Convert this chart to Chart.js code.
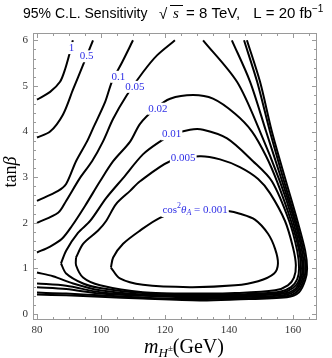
<!DOCTYPE html>
<html>
<head>
<meta charset="utf-8">
<script src="https://cdn.jsdelivr.net/npm/chart.js@4/dist/chart.umd.min.js"></script>
<style>
  html, body { margin: 0; padding: 0; background: #fff; }
</style>
</head>
<body>
<canvas id="contourChart" width="332" height="358"></canvas>
<script>
// contour lines of cos^2(theta_A), points are [m_H+ (GeV), tan(beta)]
const cos1Left = [[80, 4.70], [84.1, 4.87], [87.2, 5.09], [88.8, 5.37], [90.3, 5.74], [91.2, 6.0]];
const cos1Right = [[145.6, 6.0], [149.7, 5.09], [153.4, 4.0], [157.8, 2.91], [161.4, 2.04], [163.8, 1.39], [164.4, 1.0],
    [163.8, 0.74], [161.9, 0.48], [158.1, 0.37], [141.9, 0.32], [130.9, 0.30], [113.1, 0.34], [99.7, 0.38], [89.1, 0.41], [80, 0.43]];

const cos05Left = [[80, 3.87], [84.1, 4.0], [88.1, 4.37], [91.3, 4.93], [94.4, 5.46], [97.5, 6.0]];
const cos05Right = [[144.7, 6.0], [148.8, 5.09], [152.8, 4.0], [157.2, 2.91], [160.9, 2.04], [163.3, 1.39], [163.9, 1.0],
    [163.3, 0.74], [161.4, 0.50], [157.8, 0.39], [141.9, 0.34], [130.9, 0.33], [113.1, 0.36], [99.7, 0.41], [89.1, 0.45], [80, 0.47]];

const cos01Left = [[80, 2.48], [86.6, 2.70], [89.1, 2.85], [92.2, 3.35], [95.6, 3.78], [97.5, 4.07], [101.3, 4.65], [103.4, 5.09], [106.6, 5.52], [110.0, 6.0]];
const cos01Right = [[140.9, 6.0], [146.6, 5.09], [151.6, 4.0], [156.6, 2.91], [160.5, 2.04], [162.8, 1.39], [163.4, 1.0],
    [162.8, 0.74], [160.9, 0.52], [157.5, 0.42], [141.9, 0.37], [130.9, 0.36], [113.1, 0.40], [99.7, 0.45], [89.1, 0.55], [80, 0.59]];

const cos005Left = [[80, 2.0], [86.6, 2.22], [89.1, 2.48], [93.4, 2.98], [97.2, 3.35], [100.6, 3.78], [103.8, 4.28], [108.1, 4.80], [113.1, 5.30], [117.5, 5.67], [123.1, 6.0]];
const cos005Right = [[131.9, 6.0], [142.5, 5.09], [149.7, 4.0], [155.9, 2.91], [160.0, 2.04], [162.3, 1.39], [163.0, 1.0],
    [162.3, 0.74], [160.5, 0.54], [157.2, 0.45], [141.9, 0.39], [130.9, 0.39], [113.1, 0.41], [99.7, 0.48], [89.1, 0.62], [80, 0.67]];

const cos002 = [[80, 1.35], [84.1, 1.48], [87.8, 1.65], [90.9, 1.93], [95.0, 2.37], [99.7, 2.91], [103.8, 3.35], [109.1, 3.78], [112.2, 4.17],
    [116.9, 4.50], [121.6, 4.72], [128.8, 4.80], [135.0, 4.72], [141.9, 4.39], [147.2, 4.0], [151.6, 3.46], [155.0, 2.91], [159.4, 2.04],
    [161.9, 1.39], [162.5, 1.0], [161.9, 0.74], [160.0, 0.57], [156.6, 0.47], [141.9, 0.41], [130.9, 0.41], [113.1, 0.43], [99.7, 0.52],
    [91.3, 0.67], [85.0, 0.83], [80, 0.91]];

const cos001 = [[87.5, 1.11], [89.1, 1.39], [92.8, 1.78], [96.6, 2.04], [101.6, 2.54], [106.9, 2.98], [113.1, 3.50], [118.4, 3.78], [122.2, 3.93],
    [127.8, 4.04], [131.9, 4.04], [139.4, 3.85], [147.5, 3.35], [153.4, 2.91], [158.8, 2.04], [161.3, 1.39], [161.9, 1.0], [161.3, 0.76],
    [159.4, 0.59], [155.9, 0.49], [141.9, 0.43], [130.9, 0.43], [113.1, 0.46], [99.7, 0.57], [94.4, 0.67], [89.1, 0.89], [87.5, 1.11]];

const cos0005 = [[92.2, 1.24], [92.2, 1.07], [94.4, 0.80], [99.7, 0.63], [113.1, 0.48], [130.9, 0.45], [141.9, 0.46], [154.4, 0.52], [158.4, 0.63],
    [160.3, 0.80], [160.9, 1.07], [160.0, 1.46], [157.5, 2.04], [152.8, 2.65], [149.1, 2.96], [143.4, 3.22], [137.2, 3.39], [130.9, 3.46],
    [121.6, 3.35], [112.2, 2.91], [109.1, 2.70], [104.7, 2.41], [101.6, 2.04], [99.1, 1.83], [94.4, 1.54], [92.2, 1.24]];

const cos0001 = [[103.1, 1.02], [103.8, 1.24], [106.9, 1.54], [112.2, 1.83], [118.4, 2.11], [124.7, 2.24], [132.5, 2.30], [139.7, 2.26],
    [143.4, 2.20], [148.1, 2.07], [152.2, 1.76], [154.4, 1.43], [155.3, 1.11], [154.1, 0.89], [149.1, 0.72], [141.9, 0.63], [127.8, 0.59],
    [113.1, 0.64], [105.9, 0.78], [103.1, 1.02]];

// contour labels
const levelLabels = ['1', '0.5', '0.1', '0.05', '0.02', '0.01', '0.005'];
const labelMass = [90.8, 95.5, 105.4, 110.6, 117.8, 122.1, 125.7];
const labelTan = [5.83, 5.65, 5.20, 4.98, 4.50, 3.94, 3.42];
const mainLabelPos = [129.4, 2.28];

const xTicks = [80, 100, 120, 140, 160];
const yTicks = [0, 1, 2, 3, 4, 5, 6];

const serif = '"Liberation Serif", "DejaVu Serif", serif';
const sans = '"Liberation Sans", Arial, sans-serif';
const labelBlue = '#2f2fe6';

const pieces = [cos1Left, cos1Right, cos05Left, cos05Right, cos01Left, cos01Right, cos005Left, cos005Right,
    cos002, cos001, cos0005, cos0001];

const datasets = pieces.map(p => ({
    data: p.map(pt => ({x: pt[0], y: pt[1]})),
    showLine: true,
    borderColor: '#000',
    borderWidth: 2,
    pointRadius: 0,
    tension: 0.3,
    fill: false
}));

function drawParts(ctx, parts, x, y) {
    for (const [t, f, dy] of parts) {
        ctx.font = f;
        ctx.fillText(t, x, y + dy);
        x += ctx.measureText(t).width;
    }
    return x;
}

function partsWidth(ctx, parts) {
    let w = 0;
    for (const [t, f] of parts) {
        ctx.font = f;
        w += ctx.measureText(t).width;
    }
    return w;
}

const decorations = {
    id: 'decorations',
    afterDatasetsDraw(chart) {
        const {ctx, scales: {x, y}} = chart;
        ctx.save();
        ctx.textBaseline = 'middle';
        // contour level labels
        ctx.font = '11px ' + serif;
        levelLabels.forEach((t, i) => {
            const px = x.getPixelForValue(labelMass[i]);
            const py = y.getPixelForValue(labelTan[i]);
            const w = ctx.measureText(t).width;
            ctx.fillStyle = '#fff';
            ctx.fillRect(px - w / 2 - 1, py - 6, w + 2, 12);
            ctx.fillStyle = labelBlue;
            ctx.textAlign = 'center';
            ctx.fillText(t, px, py);
        });
        ctx.textAlign = 'left';
        const mainParts = [
            ['cos', '11px ' + serif, 0],
            ['2', '8px ' + serif, -4],
            ['\u03B8', 'italic 11px ' + serif, 0],
            ['A', 'italic 8px ' + serif, 3],
            [' = 0.001', '11px ' + serif, 0]
        ];
        const mw = partsWidth(ctx, mainParts);
        const mx = x.getPixelForValue(mainLabelPos[0]) - mw / 2;
        const my = y.getPixelForValue(mainLabelPos[1]);
        ctx.fillStyle = '#fff';
        ctx.fillRect(mx - 1, my - 7, mw + 2, 14);
        ctx.fillStyle = labelBlue;
        drawParts(ctx, mainParts, mx, my);
        ctx.restore();
    },
    afterDraw(chart) {
        const {ctx, chartArea: a, scales: {x, y}} = chart;
        ctx.save();
        // frame
        ctx.strokeStyle = '#9a9a9a';
        ctx.lineWidth = 1;
        ctx.strokeRect(a.left + 0.5, a.top + 0.5, a.right - a.left - 1, a.bottom - a.top - 1);
        ctx.beginPath();
        for (let m = 80; m <= 165; m += 5) {
            const px = Math.round(x.getPixelForValue(m)) + 0.5;
            const len = m % 20 === 0 ? 5 : 3;
            ctx.moveTo(px, a.bottom); ctx.lineTo(px, a.bottom - len);
            ctx.moveTo(px, a.top); ctx.lineTo(px, a.top + len);
        }
        for (let i = 0; i <= 30; i++) {
            const py = Math.round(y.getPixelForValue(i * 0.2)) + 0.5;
            const len = i % 5 === 0 ? 5 : 3;
            ctx.moveTo(a.left, py); ctx.lineTo(a.left + len, py);
            ctx.moveTo(a.right, py); ctx.lineTo(a.right - len, py);
        }
        ctx.stroke();

        // title
        ctx.fillStyle = '#000';
        ctx.textBaseline = 'alphabetic';
        ctx.font = '14px ' + sans;
        ctx.fillText('95% C.L. Sensitivity', 23, 18);
        ctx.font = '15px ' + sans;
        ctx.fillText('\u221A', 159, 19);
        ctx.font = 'italic 15px ' + serif;
        ctx.fillText('s', 173, 18);
        ctx.strokeStyle = '#000';
        ctx.beginPath();
        ctx.moveTo(170, 5.5); ctx.lineTo(183, 5.5);
        ctx.stroke();
        ctx.font = '15px ' + sans;
        ctx.fillText('= 8 TeV,', 186, 18);
        ctx.textAlign = 'right';
        ctx.fillText('L = 20 fb', 312, 18);
        ctx.textAlign = 'left';
        ctx.font = '10px ' + sans;
        ctx.fillText('\u22121', 312, 12);

        // x axis title
        const xParts = [
            ['m', 'italic 20px ' + serif, 0],
            ['H', 'italic 13px ' + serif, 4],
            ['\u00B1', '9px ' + serif, -2],
            ['(GeV)', '20px ' + serif, 0]
        ];
        const xw = partsWidth(ctx, xParts);
        drawParts(ctx, xParts, 184 - xw / 2, 353);

        // y axis title
        ctx.translate(16, 172);
        ctx.rotate(-Math.PI / 2);
        const yParts = [
            ['tan', '18px ' + serif, 0],
            ['\u03B2', 'italic 18px ' + serif, 0]
        ];
        const yw = partsWidth(ctx, yParts);
        drawParts(ctx, yParts, -yw / 2, 0);
        ctx.restore();
    }
};

new Chart(document.getElementById('contourChart'), {
    type: 'scatter',
    data: {datasets: datasets},
    options: {
        responsive: false,
        animation: false,
        layout: {padding: {top: 33, right: 15, left: 0, bottom: 0}},
        plugins: {
            legend: {display: false},
            title: {display: false},
            tooltip: {enabled: false}
        },
        scales: {
            x: {
                type: 'linear',
                min: 78.75,
                max: 167.5,
                afterBuildTicks: s => { s.ticks = xTicks.map(v => ({value: v})); },
                afterFit: s => { s.height = 38; },
                grid: {display: false, drawTicks: false},
                border: {display: false},
                ticks: {
                    padding: 4,
                    maxRotation: 0,
                    autoSkip: false,
                    color: '#333',
                    font: {family: serif, size: 11}
                }
            },
            y: {
                type: 'linear',
                min: -0.13,
                max: 6.16,
                afterBuildTicks: s => { s.ticks = yTicks.map(v => ({value: v})); },
                afterFit: s => { s.width = 33; },
                grid: {display: false, drawTicks: false},
                border: {display: false},
                ticks: {
                    padding: 5,
                    autoSkip: false,
                    color: '#333',
                    font: {family: serif, size: 11}
                }
            }
        }
    },
    plugins: [decorations]
});
</script>
</body>
</html>
